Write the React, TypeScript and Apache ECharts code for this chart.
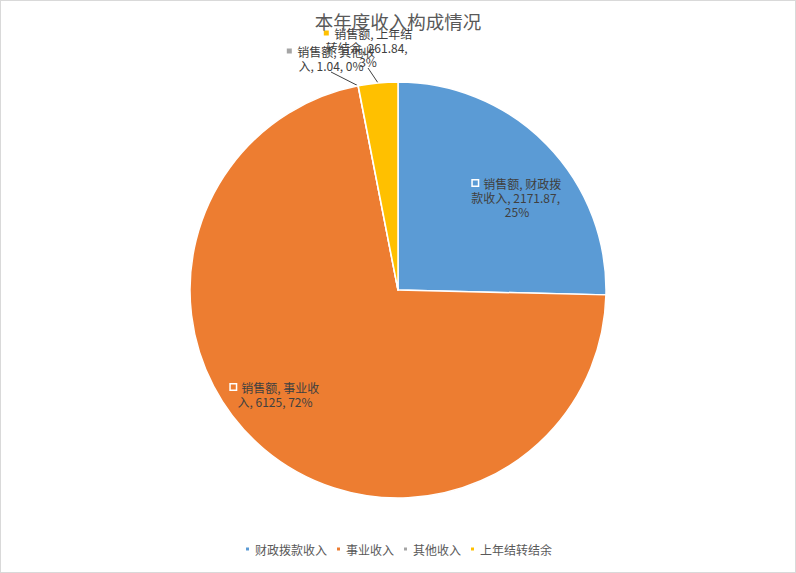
import React, { useEffect, useRef } from "react";
import * as echarts from "echarts";

const titleText = "本年度收入构成情况";
const seriesName = "销售额";
const categories = ["财政拨款收入", "事业收入", "其他收入", "上年结转结余"];
const values = [2171.87, 6125, 1.04, 261.84];
const colors = ["#5B9BD5", "#ED7D31", "#A5A5A5", "#FFC000"];

export default function App() {
  const ref = useRef<HTMLDivElement>(null);
  useEffect(() => {
    document.body.style.margin = "0";
    const chart = echarts.init(ref.current!, null, { renderer: "svg" });
    const rich: any = {};
    colors.forEach((c, i) => {
      rich["k" + i] = {
        width: 5,
        height: 5,
        backgroundColor: c,
        borderColor: i < 2 ? "#fff" : c,
        borderWidth: i < 2 ? 1.5 : 0,
      };
    });
    const inside = [true, true, false, false];
    chart.setOption({
      animation: false,
      color: colors,
      title: {
        text: titleText,
        left: "center",
        top: 6,
        textStyle: {
          fontFamily: "Noto Sans CJK SC",
          fontSize: 18.5,
          fontWeight: "normal",
          color: "#595959",
        },
      },
      legend: {
        bottom: 12,
        left: "center",
        itemWidth: 5,
        itemHeight: 5,
        itemGap: 8,
        icon: "rect",
        textStyle: { fontFamily: "Noto Sans CJK SC", fontSize: 12, color: "#595959" },
        data: categories,
      },
      series: [
        {
          name: seriesName,
          type: "pie",
          center: [397, 289],
          radius: 208,
          startAngle: 90,
          clockwise: true,
          percentPrecision: 0,
          avoidLabelOverlap: false,
          itemStyle: { borderColor: "#fff", borderWidth: 1.5 },
          label: {
            show: true,
            formatter: (p: any) =>
              `{k${p.dataIndex}|}  ${seriesName}, ${p.name}, ${p.value}, ${p.percent}%`,
            fontFamily: "Noto Sans CJK SC",
            fontSize: 12,
            lineHeight: 14,
            color: "#404040",
            width: 92,
            overflow: "break",
            align: "center",
            rich,
          },
          labelLine: { show: true, length: 6, length2: 0, lineStyle: { color: "#404040", width: 1 } },
          labelLayout: (p: any) => {
            const i = p.dataIndex;
            if (i === 0) return { x: 516, y: 196, align: "center", verticalAlign: "middle" };
            if (i === 1) return { x: 274, y: 393, align: "center", verticalAlign: "middle" };
            if (i === 2) return { x: 330, y: 57, align: "center", verticalAlign: "middle" };
            return { x: 367, y: 46, align: "center", verticalAlign: "middle" };
          },
          data: categories.map((n, i) => ({
            name: n,
            value: values[i],
            label: { position: inside[i] ? "inside" : "outside" },
            labelLine: { show: !inside[i] },
          })),
        },
      ],
    });
    return () => chart.dispose();
  }, []);
  return (
    <div
      ref={ref}
      style={{ width: 796, height: 573, border: "1px solid #D9D9D9", boxSizing: "border-box" }}
    />
  );
}
